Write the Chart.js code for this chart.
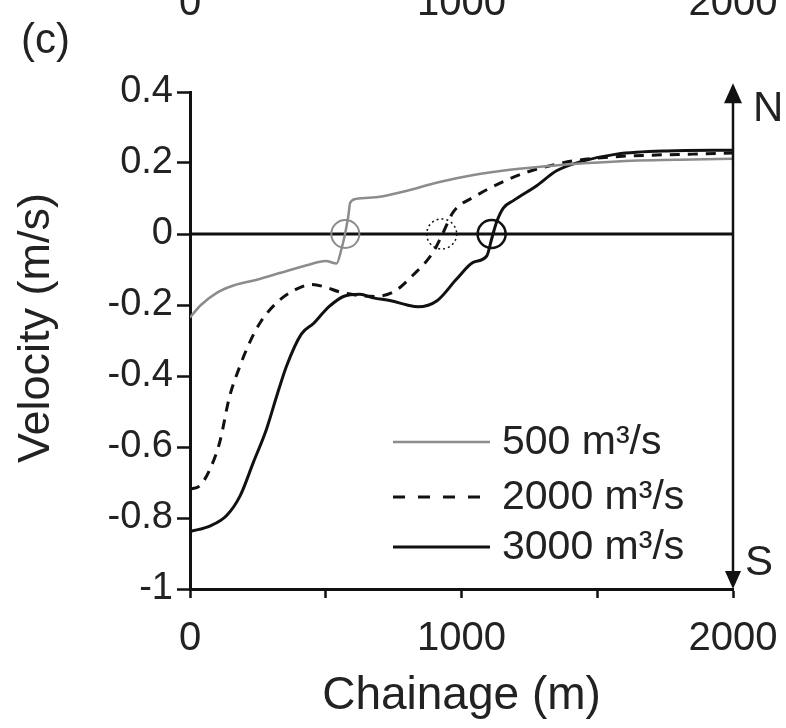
<!DOCTYPE html>
<html><head><meta charset="utf-8">
<script src="https://cdn.jsdelivr.net/npm/chart.js@4.4.0/dist/chart.umd.min.js"></script>
<style>html,body{margin:0;padding:0;background:#fff;}canvas{display:block;}</style>
</head><body>
<canvas id="c" width="786" height="728"></canvas>
<script>
// ---- data ----
const seriesNames = ['500 m³/s', '2000 m³/s', '3000 m³/s'];
const chainage500 = [0,40,100,160,250,330,430,500,540,558,571,583,590,612,700,800,900,1000,1150,1300,1450,1650,1850,2000];
const velocity500 = [-0.235,-0.2,-0.165,-0.145,-0.128,-0.11,-0.088,-0.076,-0.083,-0.042,0,0.05,0.088,0.099,0.105,0.122,0.143,0.16,0.178,0.19,0.199,0.207,0.21,0.212];
const chainage2000 = [0,35,75,110,145,185,220,260,320,390,450,500,550,620,680,750,820,895,927,970,1050,1150,1240,1330,1420,1550,1700,1850,2000];
const velocity2000 = [-0.718,-0.71,-0.66,-0.585,-0.46,-0.37,-0.305,-0.248,-0.193,-0.156,-0.142,-0.15,-0.163,-0.173,-0.176,-0.163,-0.117,-0.052,-0.005,0.062,0.106,0.146,0.174,0.193,0.207,0.217,0.222,0.225,0.228];
const chainage3000 = [0,75,135,185,233,282,320,356,410,455,491,516,565,626,675,740,800,840,910,982,1043,1093,1111,1129,1154,1191,1277,1350,1436,1571,1755,2000];
const velocity3000 = [-0.838,-0.822,-0.793,-0.737,-0.644,-0.549,-0.455,-0.371,-0.282,-0.252,-0.221,-0.202,-0.176,-0.17,-0.18,-0.188,-0.2,-0.205,-0.188,-0.127,-0.08,-0.062,-0.014,0.033,0.073,0.094,0.136,0.178,0.203,0.225,0.234,0.236];
const crossingChainage = [572, 927, 1111];
const crossingVelocity = [0, 0, 0];
const zeroLineChainage = [0, 2000];
const zeroLineVelocity = [0, 0];
const xTickValues = [0, 500, 1000, 1500, 2000];
const xTickLabels = ['0', '', '1000', '', '2000'];
const yTickLabels = ['-1', '-0.8', '-0.6', '-0.4', '-0.2', '0', '0.2', '0.4'];
const prevPanelTickValues = [0, 1000, 2000];
const prevPanelTickLabels = ['0', '1000', '2000'];
const panelLabel = '(c)';
const xTitle = 'Chainage (m)';
const yTitle = 'Velocity (m/s)';
const northLabel = 'N';
const southLabel = 'S';

const pts = (xs, ys) => xs.map((x, i) => ({x, y: ys[i]}));
const FONT = '"Liberation Sans", Arial, sans-serif';
const TEXT = '#222';
const GRAY = '#8c8c8c';
const BLACK = '#111';

const dashPlugin = {
  id: 'dashPoints',
  beforeDatasetDraw(chart, args) {
    const ds = chart.data.datasets[args.index];
    if (ds.pointDash) chart.ctx.setLineDash(ds.pointDash);
  },
  afterDatasetDraw(chart) {
    chart.ctx.setLineDash([]);
  }
};

const decorPlugin = {
  id: 'decor',
  afterDraw(chart) {
    const {ctx, scales: {x, y}} = chart;
    ctx.save();
    // vertical N/S arrow line at chainage 2000
    const px = x.getPixelForValue(2000);
    const yBot = y.getPixelForValue(-1);
    const yTop = y.getPixelForValue(0.425);
    ctx.strokeStyle = BLACK; ctx.fillStyle = BLACK; ctx.lineWidth = 2.5;
    ctx.beginPath(); ctx.moveTo(px, yBot - 10); ctx.lineTo(px, yTop + 12); ctx.stroke();
    ctx.beginPath(); ctx.moveTo(px, yTop); ctx.lineTo(px - 9, yTop + 20); ctx.lineTo(px + 9, yTop + 20); ctx.closePath(); ctx.fill();
    ctx.beginPath(); ctx.moveTo(px, yBot); ctx.lineTo(px - 8, yBot - 18); ctx.lineTo(px + 8, yBot - 18); ctx.closePath(); ctx.fill();
    ctx.fillStyle = TEXT; ctx.font = '42px ' + FONT; ctx.textAlign = 'left'; ctx.textBaseline = 'middle';
    ctx.fillText(northLabel, px + 20, yTop + 26);
    ctx.fillText(southLabel, px + 12, yBot - 26);
    // panel label and previous panel tick labels (cut off at top)
    ctx.font = '42px ' + FONT; ctx.textBaseline = 'middle';
    ctx.fillText(panelLabel, 21, 41);
    ctx.font = '40px ' + FONT; ctx.textAlign = 'center'; ctx.textBaseline = 'alphabetic';
    prevPanelTickValues.forEach((v, i) => ctx.fillText(prevPanelTickLabels[i], x.getPixelForValue(v), 15));
    // legend
    const styles = [
      {color: GRAY, width: 2.5, dash: []},
      {color: BLACK, width: 3, dash: [12, 13]},
      {color: BLACK, width: 3, dash: []}
    ];
    const lx0 = 393, lx1 = 490, ly = [442, 497, 547];
    ctx.font = '41px ' + FONT; ctx.textAlign = 'left'; ctx.textBaseline = 'middle';
    seriesNames.forEach((name, i) => {
      const s = styles[i];
      ctx.strokeStyle = s.color; ctx.lineWidth = s.width; ctx.setLineDash(s.dash);
      ctx.beginPath(); ctx.moveTo(lx0, ly[i]); ctx.lineTo(lx1, ly[i]); ctx.stroke();
      ctx.setLineDash([]);
      ctx.fillStyle = TEXT;
      ctx.fillText(name, 502, ly[i] + 1);
    });
    ctx.restore();
  }
};

new Chart(document.getElementById('c'), {
  type: 'line',
  data: {
    datasets: [
      {data: pts([crossingChainage[0]], [crossingVelocity[0]]), showLine: false, pointRadius: 14, pointBorderWidth: 2, pointBorderColor: GRAY, pointBackgroundColor: 'rgba(0,0,0,0)'},
      {data: pts([crossingChainage[1]], [crossingVelocity[1]]), showLine: false, pointRadius: 15, pointBorderWidth: 1.5, pointBorderColor: BLACK, pointBackgroundColor: 'rgba(0,0,0,0)', pointDash: [2, 3]},
      {data: pts([crossingChainage[2]], [crossingVelocity[2]]), showLine: false, pointRadius: 14, pointBorderWidth: 2.5, pointBorderColor: BLACK, pointBackgroundColor: 'rgba(0,0,0,0)'},
      {label: seriesNames[0], data: pts(chainage500, velocity500), borderColor: GRAY, borderWidth: 2.5, pointRadius: 0, cubicInterpolationMode: 'monotone'},
      {label: seriesNames[1], data: pts(chainage2000, velocity2000), borderColor: BLACK, borderWidth: 3, borderDash: [10, 8], pointRadius: 0, cubicInterpolationMode: 'monotone'},
      {label: seriesNames[2], data: pts(chainage3000, velocity3000), borderColor: BLACK, borderWidth: 3, pointRadius: 0, cubicInterpolationMode: 'monotone'},
      {data: pts(zeroLineChainage, zeroLineVelocity), borderColor: BLACK, borderWidth: 3, pointRadius: 0}
    ]
  },
  options: {
    responsive: false,
    animation: false,
    events: [],
    layout: {padding: {left: 0, right: 53, top: 92, bottom: 0}},
    plugins: {legend: {display: false}, tooltip: {enabled: false}},
    scales: {
      x: {
        type: 'linear', min: 0, max: 2000,
        afterFit(s) { s.height = 139; s.paddingRight = 0; s.paddingLeft = 0; },
        border: {display: true, color: BLACK, width: 3},
        grid: {drawOnChartArea: false, drawTicks: true, tickLength: 9, tickColor: BLACK, tickWidth: 2.5},
        ticks: {
          stepSize: 500, autoSkip: false, maxRotation: 0, padding: 17, color: TEXT,
          font: {family: FONT, size: 40},
          callback(v) { const i = xTickValues.indexOf(v); return i >= 0 ? xTickLabels[i] : ''; }
        },
        title: {display: true, text: xTitle, color: TEXT, font: {family: FONT, size: 46}, padding: {top: 0, bottom: 4}}
      },
      y: {
        type: 'linear', min: -1, max: 0.4,
        afterFit(s) { s.width = 190; },
        border: {display: true, color: BLACK, width: 3},
        grid: {drawOnChartArea: false, drawTicks: true, tickLength: 13, tickColor: BLACK, tickWidth: 2.5},
        ticks: {
          stepSize: 0.2, padding: 4, color: TEXT,
          font: {family: FONT, size: 38},
          callback(v) { const l = yTickLabels.find(t => Math.abs(parseFloat(t) - v) < 1e-6); return l === undefined ? '' : l; }
        },
        title: {display: true, text: '  ' + yTitle, color: TEXT, font: {family: FONT, size: 45}, padding: {top: 10, bottom: 0}}
      }
    }
  },
  plugins: [dashPlugin, decorPlugin]
});
</script>
</body></html>
